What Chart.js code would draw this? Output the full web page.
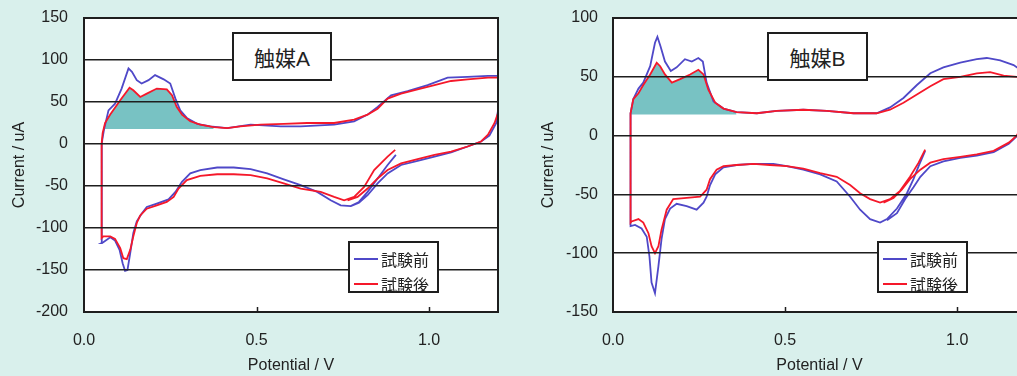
<!DOCTYPE html>
<html><head><meta charset="utf-8">
<script src="https://cdn.jsdelivr.net/npm/chart.js@4.4.1/dist/chart.umd.min.js"></script>
<style>
html,body{margin:0;padding:0;}
body{width:1017px;height:376px;overflow:hidden;background:#d9f0ec;position:relative;}
.panel{position:absolute;top:0;height:376px;}
#pA{left:0;width:510px;}
#pB{left:510px;width:530px;}
.tag{position:absolute;top:32px;height:49px;border:2px solid #1e1e1e;background:#fff;font:21px "Liberation Sans","Noto Sans CJK JP",sans-serif;color:#222;display:flex;align-items:center;justify-content:center;box-sizing:border-box;}
.leg{position:absolute;top:241px;width:91px;height:52px;border:2px solid #1e1e1e;background:#fff;box-sizing:border-box;font:16px "Noto Sans CJK JP",sans-serif;color:#222;}
.row{position:absolute;left:4px;height:20px;display:flex;align-items:center;}
.row i{display:inline-block;width:24px;height:1.5px;margin-right:3px;}
</style></head>
<body>
<div class="panel" id="pA"><canvas id="cA" width="510" height="376"></canvas>
  <div class="tag" style="left:232px;width:100px;">触媒A</div>
  <div class="leg" style="left:348px;" id="legA"></div>
</div>
<div class="panel" id="pB"><canvas id="cB" width="530" height="376"></canvas>
  <div class="tag" style="left:257px;width:101px;">触媒B</div>
  <div class="leg" style="left:367px;" id="legB"></div>
</div>
<script>
// ---------- data ----------
const seriesNames = ["試験前", "試験後"];
const xTicks = [0.0, 0.5, 1.0];
const xRange = [0, 1.2];
const yTicksA = [-200, -150, -100, -50, 0, 50, 100, 150];
const yTicksB = [-150, -100, -50, 0, 50, 100];
const shadeBase = 18;
const shadeEndA = 0.38;
const shadeEndB = 0.38;

// 触媒A 試験前 (before)
const cathodicA_before = [[0.904,-13],[0.880,-25],[0.851,-41],[0.822,-57],[0.797,-69],[0.773,-74],[0.744,-73],[0.715,-67],[0.676,-57],[0.628,-49],[0.579,-42],[0.531,-35],[0.483,-30],[0.434,-28],[0.386,-28],[0.337,-31],[0.308,-35],[0.284,-45],[0.265,-57],[0.245,-66],[0.211,-71],[0.182,-75],[0.167,-83],[0.153,-92],[0.143,-106],[0.134,-130],[0.126,-150],[0.119,-151],[0.112,-142],[0.103,-126],[0.090,-115],[0.076,-111],[0.056,-117],[0.051,-118]];
const anodicA_before = [[0.051,-118],[0.052,0],[0.053,5],[0.058,17],[0.071,40],[0.090,48],[0.109,66],[0.129,90],[0.139,86],[0.153,76],[0.167,72],[0.187,76],[0.206,82],[0.231,77],[0.250,72],[0.265,54],[0.279,40],[0.298,31],[0.328,24],[0.366,21],[0.415,19],[0.483,23],[0.570,21],[0.628,21],[0.725,23],[0.783,27],[0.822,35],[0.851,44],[0.890,58],[0.938,63],[0.996,70],[1.054,79],[1.112,80],[1.171,81],[1.200,81]];
const returnA_before = [[1.2,81],[1.2,40],[1.195,25],[1.175,10],[1.151,3],[1.112,-3],[1.064,-10],[1.016,-15],[0.967,-20],[0.919,-25],[0.880,-35],[0.851,-47],[0.822,-61],[0.797,-70],[0.773,-74]];

// 触媒A 試験後 (after)
const cathodicA_after = [[0.902,-7],[0.880,-15],[0.841,-31],[0.812,-51],[0.783,-63],[0.754,-67],[0.725,-63],[0.686,-57],[0.628,-53],[0.579,-47],[0.531,-41],[0.483,-37],[0.434,-36],[0.386,-36],[0.337,-38],[0.298,-43],[0.274,-53],[0.260,-63],[0.240,-69],[0.211,-73],[0.182,-77],[0.163,-85],[0.153,-94],[0.143,-110],[0.134,-126],[0.124,-137],[0.114,-136],[0.105,-124],[0.090,-113],[0.076,-110],[0.056,-110],[0.051,-112]];
const anodicA_after = [[0.051,-112],[0.051,0],[0.054,13],[0.061,25],[0.076,35],[0.105,52],[0.132,67],[0.143,64],[0.163,56],[0.182,60],[0.211,66],[0.240,65],[0.255,58],[0.269,44],[0.284,35],[0.308,27],[0.337,23],[0.376,20],[0.415,19],[0.453,21],[0.512,23],[0.579,24],[0.647,25],[0.725,25],[0.783,29],[0.822,35],[0.851,42],[0.880,54],[0.919,60],[0.967,65],[1.016,70],[1.064,75],[1.112,77],[1.171,79],[1.200,79]];
const returnA_after = [[1.2,79],[1.2,48],[1.2,37],[1.190,25],[1.171,11],[1.151,3],[1.112,-3],[1.064,-9],[1.016,-13],[0.967,-18],[0.919,-23],[0.880,-31],[0.851,-41],[0.822,-53],[0.793,-63],[0.764,-67]];

// 触媒B 試験前 (before)
const cathodicB_before = [[0.907,-13],[0.888,-26],[0.873,-37],[0.854,-49],[0.825,-62],[0.796,-71],[0.776,-74],[0.747,-71],[0.718,-63],[0.689,-52],[0.650,-39],[0.602,-33],[0.553,-29],[0.505,-26],[0.466,-24],[0.408,-24],[0.359,-25],[0.321,-27],[0.297,-33],[0.282,-42],[0.272,-52],[0.263,-57],[0.243,-63],[0.214,-60],[0.185,-58],[0.166,-62],[0.151,-71],[0.141,-88],[0.132,-111],[0.122,-134],[0.112,-125],[0.106,-103],[0.098,-86],[0.083,-79],[0.064,-76],[0.051,-77]];
const anodicB_before = [[0.051,-77],[0.051,19],[0.059,31],[0.074,40],[0.088,45],[0.108,59],[0.122,79],[0.129,84],[0.138,76],[0.151,63],[0.168,55],[0.185,58],[0.209,65],[0.229,63],[0.248,66],[0.261,63],[0.272,45],[0.292,29],[0.321,23],[0.359,20],[0.418,19],[0.476,21],[0.553,22],[0.621,21],[0.699,19],[0.766,19],[0.805,24],[0.844,32],[0.883,43],[0.922,53],[0.960,58],[1.009,62],[1.057,65],[1.086,66],[1.125,64],[1.164,60],[1.174,58],[1.200,55]];
const returnB_before = [[1.2,55],[1.2,25],[1.19,8],[1.175,0],[1.150,-7],[1.106,-14],[1.057,-17],[1.009,-19],[0.960,-22],[0.922,-26],[0.893,-35],[0.873,-44],[0.849,-54],[0.825,-66],[0.796,-72]];

// 触媒B 試験後 (after)
const cathodicB_after = [[0.907,-12],[0.888,-23],[0.863,-35],[0.834,-47],[0.805,-54],[0.776,-57],[0.747,-54],[0.718,-49],[0.689,-42],[0.650,-35],[0.602,-32],[0.553,-28],[0.505,-26],[0.456,-25],[0.408,-24],[0.359,-25],[0.321,-26],[0.301,-29],[0.282,-37],[0.272,-46],[0.253,-52],[0.214,-53],[0.175,-54],[0.156,-63],[0.141,-80],[0.132,-94],[0.122,-100],[0.112,-94],[0.103,-83],[0.088,-74],[0.074,-71],[0.054,-73],[0.051,-74]];
const anodicB_after = [[0.051,-74],[0.051,19],[0.059,31],[0.074,36],[0.088,43],[0.108,52],[0.127,62],[0.137,59],[0.151,52],[0.171,45],[0.195,48],[0.224,52],[0.248,56],[0.263,52],[0.277,39],[0.297,28],[0.321,23],[0.359,20],[0.418,19],[0.476,21],[0.553,22],[0.621,21],[0.699,19],[0.766,19],[0.805,22],[0.844,28],[0.883,35],[0.922,42],[0.960,48],[1.009,50],[1.057,53],[1.096,54],[1.135,51],[1.173,50],[1.200,50]];
const returnB_after = [[1.2,50],[1.2,25],[1.19,8],[1.173,0],[1.150,-6],[1.106,-13],[1.057,-16],[1.009,-18],[0.960,-20],[0.922,-23],[0.893,-29],[0.863,-37],[0.839,-46],[0.815,-53],[0.786,-57]];

// ---------- styling ----------
const BLUE = '#4f48c8';
const RED = '#f5182a';
const TEAL = '#78c2c3';
const INK = '#1e1e1e';
const FONT = '"Liberation Sans", Arial, sans-serif';

const toXY = a => a.map(([x, y]) => ({x, y}));
const zeroPad = s => { s.paddingTop = 0; s.paddingBottom = 0; s.paddingLeft = 0; s.paddingRight = 0; };

const framePlugin = {
  id: 'frame',
  beforeDraw(chart) {
    const {ctx, chartArea: a} = chart;
    ctx.save();
    ctx.fillStyle = '#fff';
    ctx.fillRect(a.left, a.top, a.right - a.left, a.bottom - a.top);
    ctx.restore();
  },
  afterDraw(chart) {
    const {ctx, chartArea: a} = chart;
    const xs = chart.scales.x;
    ctx.save();
    ctx.strokeStyle = INK;
    ctx.lineWidth = 2;
    ctx.strokeRect(a.left, a.top, a.right - a.left, a.bottom - a.top);
    ctx.lineWidth = 1.5;
    xTicks.forEach(v => {
      if (v <= xRange[0] || v >= xRange[1]) return;
      const px = Math.round(xs.getPixelForValue(v)) + 0.5;
      ctx.beginPath(); ctx.moveTo(px, a.bottom); ctx.lineTo(px, a.bottom - 5); ctx.stroke();
    });
    ctx.restore();
  }
};

function makeChart(id, before, after, shadePts, yTicks, cfg) {
  const line = (label, data, color, order) => ({
    label, data: toXY(data), showLine: true, borderColor: color, borderWidth: 1.8,
    pointRadius: 0, fill: false, order, tension: 0
  });
  new Chart(document.getElementById(id), {
    type: 'scatter',
    data: {
      datasets: [
        line(seriesNames[1], after, RED, 0),
        line(seriesNames[0], before, BLUE, 1),
        { label: 'shade', data: toXY(shadePts), showLine: true, borderWidth: 0, pointRadius: 0,
          backgroundColor: TEAL, borderColor: TEAL, fill: {value: shadeBase}, order: 2 }
      ]
    },
    options: {
      responsive: false, animation: false, devicePixelRatio: 1,
      layout: { padding: { top: 18, right: cfg.padRight, bottom: 0, left: 0 } },
      plugins: { legend: { display: false }, tooltip: { enabled: false } },
      scales: {
        x: {
          type: 'linear', min: xRange[0], max: xRange[1],
          afterBuildTicks: s => { s.ticks = xTicks.map(v => ({value: v})); },
          afterFit: s => { s.height = 64; zeroPad(s); },
          grid: { display: false, drawTicks: false },
          border: { display: false },
          ticks: { color: '#222', font: { family: FONT, size: 16 }, padding: 19,
                   callback: v => Number(v).toFixed(1), maxRotation: 0 },
          title: { display: true, text: 'Potential / V', color: '#222',
                   font: { family: FONT, size: 16 }, padding: { top: 0, bottom: 1 } }
        },
        y: {
          type: 'linear', min: yTicks[0], max: yTicks[yTicks.length - 1],
          afterBuildTicks: s => { s.ticks = yTicks.map(v => ({value: v})); },
          afterFit: s => { s.width = cfg.axisW; zeroPad(s); },
          grid: { color: INK, lineWidth: 1.5, drawTicks: false, z: 1 },
          border: { display: false },
          ticks: { color: '#222', font: { family: FONT, size: 16 }, padding: cfg.tickPad },
          title: { display: true, text: 'Current / uA', color: '#222',
                   font: { family: FONT, size: 16 }, padding: { top: cfg.titlePad, bottom: 0 } }
        }
      }
    },
    plugins: [framePlugin]
  });
}

function makeLegend(id) {
  const el = document.getElementById(id);
  [[seriesNames[0], BLUE, 6], [seriesNames[1], RED, 31]].forEach(([t, c, top]) => {
    const r = document.createElement('div');
    r.className = 'row'; r.style.top = top + 'px';
    r.innerHTML = '<i style="background:' + c + '"></i><span>' + t + '</span>';
    el.appendChild(r);
  });
}

const shadeA = anodicA_after.filter(([x, y]) => x <= shadeEndA && y >= shadeBase);
const shadeB = anodicB_after.filter(([x, y]) => x <= shadeEndB && y >= shadeBase);

makeChart('cA', [...cathodicA_before, ...anodicA_before, ...returnA_before],
  [...cathodicA_after, ...anodicA_after, ...returnA_after], shadeA, yTicksA,
  { padRight: 12, axisW: 84, tickPad: 16, titlePad: 10 });
makeChart('cB', [...cathodicB_before, ...anodicB_before, ...returnB_before],
  [...cathodicB_after, ...anodicB_after, ...returnB_after], shadeB, yTicksB,
  { padRight: 14, axisW: 103, tickPad: 15, titlePad: 29 });
makeLegend('legA');
makeLegend('legB');
</script>
</body></html>
